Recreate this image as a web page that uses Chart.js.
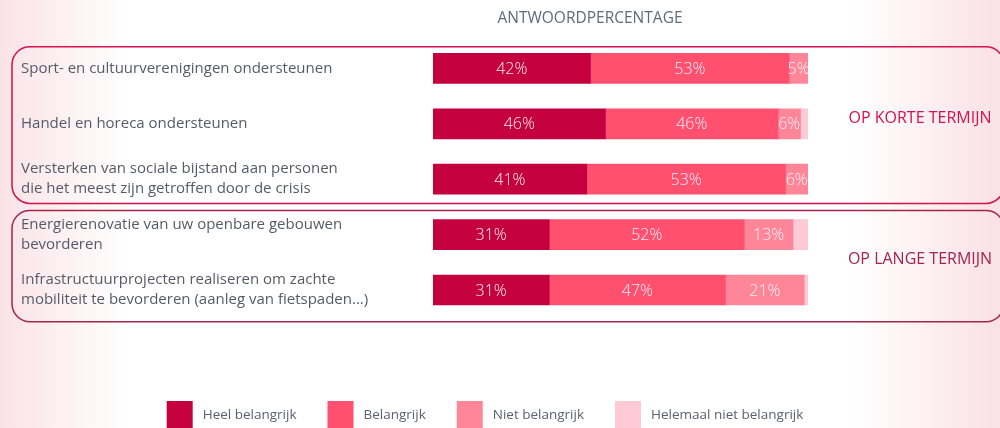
<!DOCTYPE html>
<html>
<head>
<meta charset="utf-8">
<script src="https://cdn.jsdelivr.net/npm/chart.js@4/dist/chart.umd.min.js"></script>
<style>
   body {
      margin: 0;
      background:
         linear-gradient(to right, rgba(249, 222, 227, 0.85) 0px, rgba(255, 255, 255, 0) 130px),
         linear-gradient(to left, rgba(249, 222, 227, 0.9) 0px, rgba(255, 255, 255, 0) 150px),
         #ffffff;
   }
   #wrap { width: 1000px; height: 428px; position: relative; }
</style>
</head>
<body>
<div id="wrap"><canvas id="graphique" width="1000" height="428"></canvas></div>
<script>
// Données
const categories = [
   'Sport- en cultuurverenigingen ondersteunen',
   'Handel en horeca ondersteunen',
   ['Versterken van sociale bijstand aan personen', 'die het meest zijn getroffen door de crisis'],
   ['Energierenovatie van uw openbare gebouwen', 'bevorderen'],
   ['Infrastructuurprojecten realiseren om zachte', 'mobiliteit te bevorderen (aanleg van fietspaden...)']
];
const heelBelangrijk = [42, 46, 41, 31, 31];
const belangrijk = [53, 46, 53, 52, 47];
const nietBelangrijk = [5, 6, 6, 13, 21];
const helemaalNiet = [0, 2, 0, 4, 1];
const seriesNames = ['Heel belangrijk', 'Belangrijk', 'Niet belangrijk', 'Helemaal niet belangrijk'];
const groupLabels = ['OP KORTE TERMIJN', 'OP LANGE TERMIJN'];
const groupRows = [[0, 2], [3, 4]];
const titre = 'ANTWOORDPERCENTAGE';

const COULEURS = ['#c4003f', '#ff5070', '#ff8699', '#ffcad5'];
const FONT = '"Open Sans", sans-serif';

// Boites, titres, étiquettes et légende
const decor = {
   id: 'decor',
   afterDatasetsDraw(chart) {
      const c = chart.ctx;

      // valeurs dans les barres
      c.save();
      c.font = '300 16px ' + FONT;
      c.fillStyle = '#fff0f4';
      c.textAlign = 'center';
      c.textBaseline = 'middle';
      chart.data.datasets.forEach((ds, i) => {
         if (i > 2) return;
         chart.getDatasetMeta(i).data.forEach((bar, j) => {
            if (!ds.data[j]) return;
            c.fillText(ds.data[j] + '%', (bar.x + bar.base) / 2, bar.y + 1);
         });
      });
      c.restore();
   },
   afterDraw(chart) {
      const c = chart.ctx;
      const y = chart.scales.y;
      const step = y.getPixelForValue(1) - y.getPixelForValue(0);
      const boxColors = ['#d3124f', '#a3244d'];

      c.save();
      groupRows.forEach((g, i) => {
         const top = y.getPixelForValue(g[0]) - step / 2 + (i === 0 ? 6 : 3.5);
         const bottom = y.getPixelForValue(g[1]) + step / 2 + (i === 0 ? -3.5 : 4);
         c.beginPath();
         c.roundRect(12, top, 992, bottom - top, 18);
         c.lineWidth = 1.5;
         c.strokeStyle = boxColors[i];
         c.stroke();

         c.font = '16px ' + FONT;
         c.fillStyle = boxColors[i];
         c.textAlign = 'center';
         c.textBaseline = 'middle';
         c.fillText(groupLabels[i], 920, (top + bottom) / 2 - 7);
      });

      // titre
      c.font = '15.5px ' + FONT;
      c.fillStyle = '#5d6b7a';
      c.textAlign = 'center';
      c.textBaseline = 'middle';
      c.fillText(titre, 590, 19);

      // légende
      c.font = '13.5px ' + FONT;
      c.textBaseline = 'middle';
      c.textAlign = 'left';
      const widths = chart.data.datasets.map(ds => 26 + 10 + c.measureText(ds.label).width);
      const total = widths.reduce((a, b) => a + b, 0) + 31 * (widths.length - 1);
      let x = 485 - total / 2;
      chart.data.datasets.forEach((ds, i) => {
         c.fillStyle = ds.backgroundColor;
         c.fillRect(x, 401, 26, 27);
         c.fillStyle = '#5a6270';
         c.fillText(ds.label, x + 36, 415);
         x += widths[i] + 31;
      });
      c.restore();
   }
};

const series = [heelBelangrijk, belangrijk, nietBelangrijk, helemaalNiet];

new Chart(document.getElementById('graphique'), {
   type: 'bar',
   data: {
      labels: categories,
      datasets: series.map((d, i) => ({
         label: seriesNames[i],
         data: d,
         backgroundColor: COULEURS[i],
         borderWidth: 0,
         barThickness: 30
      }))
   },
   options: {
      indexAxis: 'y',
      responsive: false,
      animation: false,
      layout: {
         padding: { left: 21, right: 192, top: 40.7, bottom: 110.3 }
      },
      scales: {
         x: {
            stacked: true,
            display: false,
            min: 0,
            max: 100
         },
         y: {
            stacked: true,
            grid: { display: false },
            border: { display: false },
            afterFit(scale) { scale.width = 412; },
            ticks: {
               crossAlign: 'far',
               color: '#555b66',
               font: { family: FONT, size: 15, lineHeight: 1.33 }
            }
         }
      },
      plugins: {
         legend: { display: false },
         tooltip: { enabled: false }
      }
   },
   plugins: [decor]
});
</script>
</body>
</html>
